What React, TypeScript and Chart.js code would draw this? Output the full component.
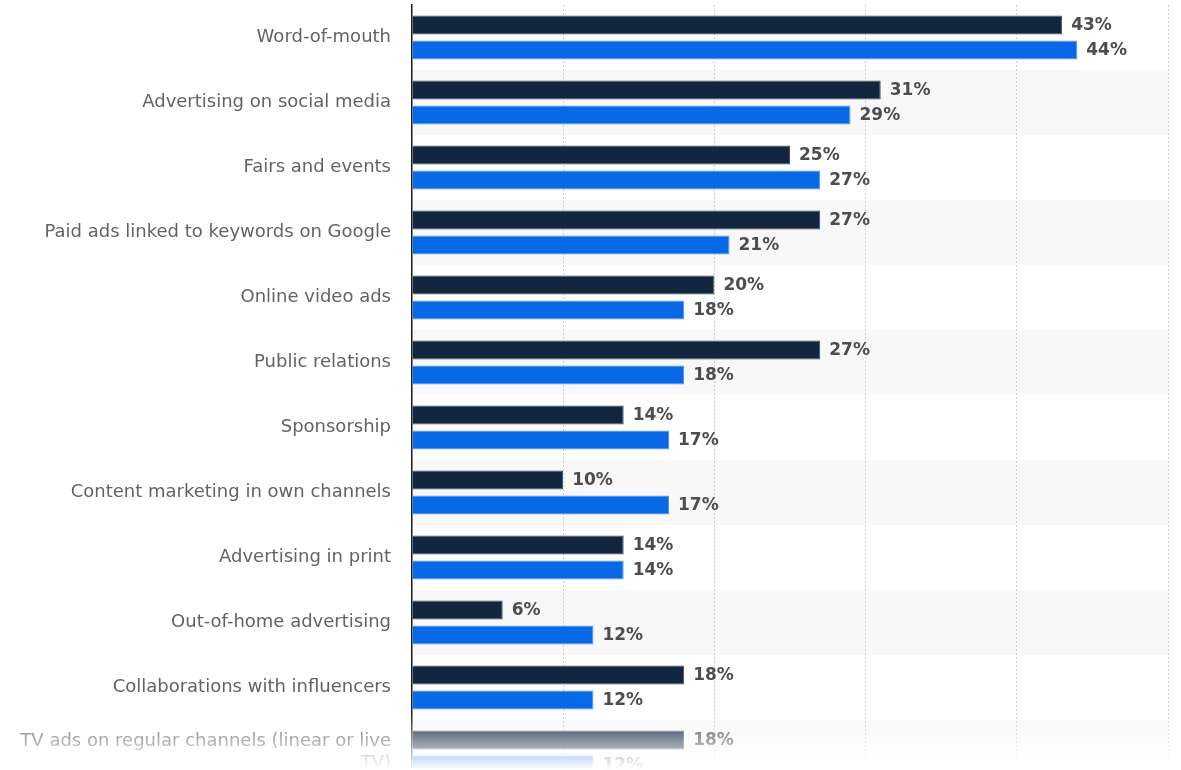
import React, { useEffect, useRef } from "react";
import { Chart, registerables } from "chart.js";

Chart.register(...registerables);

const categories: (string | string[])[] = [
  "Word-of-mouth",
  "Advertising on social media",
  "Fairs and events",
  "Paid ads linked to keywords on Google",
  "Online video ads",
  "Public relations",
  "Sponsorship",
  "Content marketing in own channels",
  "Advertising in print",
  "Out-of-home advertising",
  "Collaborations with influencers",
  ["TV ads on regular channels (linear or live", "TV)"],
];

const seriesDark = [43, 31, 25, 27, 20, 27, 14, 10, 14, 6, 18, 18];
const seriesBlue = [44, 29, 27, 21, 18, 18, 17, 17, 14, 12, 12, 12];

const xTicks = [0, 10, 20, 30, 40, 50];

const stripePlugin = {
  id: "stripes",
  beforeDraw(chart: any) {
    const { ctx, chartArea, scales } = chart;
    const y = scales.y;
    const n = categories.length;
    const h = (chartArea.bottom - chartArea.top) / n;
    ctx.save();
    ctx.fillStyle = "#f8f8f8";
    for (let i = 0; i < n; i++) {
      if (i % 2 === 1) {
        const c = y.getPixelForValue(i);
        ctx.fillRect(chartArea.left, c - h / 2, chartArea.right - chartArea.left, h);
      }
    }
    ctx.restore();
  },
};

const labelPlugin = {
  id: "valueLabels",
  afterDatasetsDraw(chart: any) {
    const { ctx } = chart;
    ctx.save();
    ctx.font = "bold 17px 'DejaVu Sans'";
    ctx.fillStyle = "#4d4d4d";
    ctx.textAlign = "left";
    ctx.textBaseline = "middle";
    chart.data.datasets.forEach((ds: any, di: number) => {
      const meta = chart.getDatasetMeta(di);
      meta.data.forEach((el: any, i: number) => {
        ctx.fillText(ds.data[i] + "%", el.x + 9, el.y + 1);
      });
    });
    ctx.restore();
  },
};

export default function App() {
  const ref = useRef<HTMLCanvasElement | null>(null);
  useEffect(() => {
    if (!ref.current) return;
    const chart = new Chart(ref.current, {
      type: "bar",
      data: {
        labels: categories as any,
        datasets: [
          {
            label: "Series A",
            data: seriesDark,
            backgroundColor: "#13263f",
            borderColor: "#3c4c63",
            borderWidth: 1,
            borderSkipped: "start",
          },
          {
            label: "Series B",
            data: seriesBlue,
            backgroundColor: "#0968e5",
            borderColor: "#4f92ee",
            borderWidth: 1,
            borderSkipped: "start",
          },
        ],
      },
      plugins: [stripePlugin, labelPlugin],
      options: {
        indexAxis: "y",
        animation: false,
        responsive: true,
        maintainAspectRatio: false,
        datasets: {
          bar: { categoryPercentage: 50 / 65, barPercentage: 0.76 },
        },
        layout: { padding: { top: 5, right: 13, bottom: 5, left: 0 } },
        plugins: {
          legend: { display: false },
          tooltip: { enabled: false },
        },
        scales: {
          x: {
            min: xTicks[0],
            max: xTicks[xTicks.length - 1],
            afterBuildTicks: (scale: any) => {
              scale.ticks = xTicks.map((v) => ({ value: v }));
            },
            ticks: { display: false },
            grid: {
              drawTicks: false,
              color: (c: any) => (c.tick && c.tick.value === 0 ? "rgba(0,0,0,0)" : "#cfcfcf"),
              lineWidth: 1,
            },
            border: { display: false, dash: [2, 2] },
            afterFit: (scale: any) => {
              scale.height = 0;
              scale.paddingLeft = 0;
              scale.paddingRight = 0;
            },
          },
          y: {
            grid: { display: false, drawTicks: false },
            border: { display: true, color: "#1a1a1a", width: 1.5 },
            ticks: {
              padding: 21,
              color: "#636363",
              font: { family: "'DejaVu Sans'", size: 18 },
            },
            afterFit: (scale: any) => {
              scale.width = 412;
              scale.paddingTop = 0;
              scale.paddingBottom = 0;
            },
          },
        },
      } as any,
    });
    return () => chart.destroy();
  }, []);

  return (
    <div style={{ position: "absolute", top: 0, left: 0, width: 1181, height: 770, overflow: "hidden", background: "#fff" }}>
      <div style={{ position: "relative", width: 1181, height: 790 }}>
        <canvas ref={ref} />
      </div>
      <div
        style={{
          position: "absolute",
          left: 0,
          top: 712,
          width: 1181,
          height: 58,
          background: "linear-gradient(to bottom, rgba(255,255,255,0) 0%, rgba(255,255,255,1) 100%)",
          pointerEvents: "none",
        }}
      />
    </div>
  );
}
